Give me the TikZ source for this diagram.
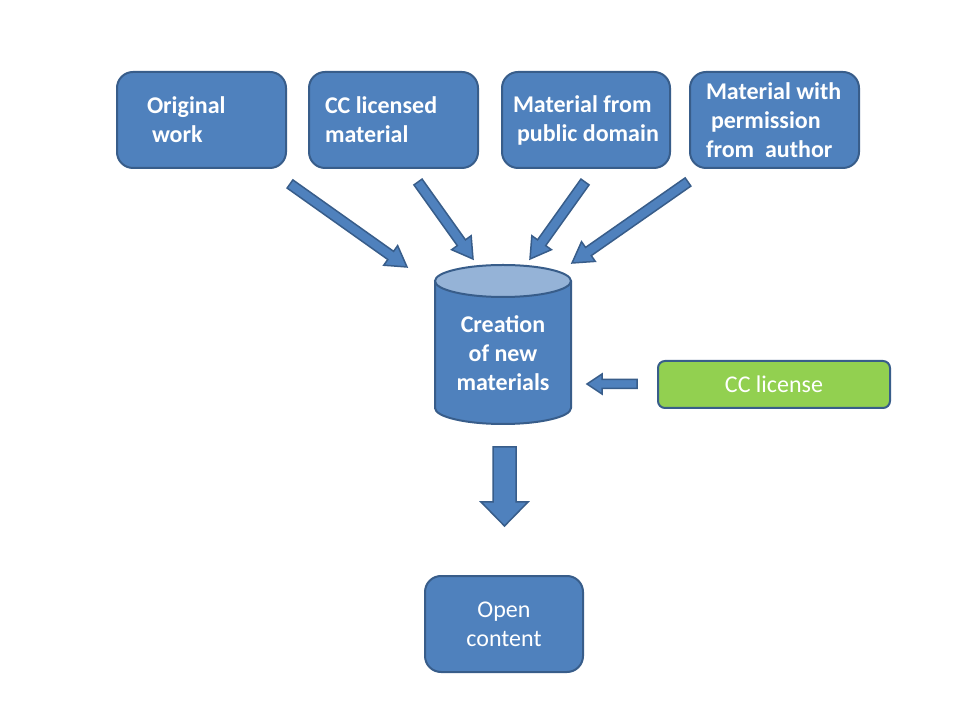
\documentclass[tikz,border=0pt]{standalone}
\usepackage{fontspec}
\setmainfont{Carlito}
\usetikzlibrary{calc}
\definecolor{boxfill}{HTML}{4F81BD}
\definecolor{boxline}{HTML}{385D8A}
\definecolor{topfill}{HTML}{95B3D7}
\definecolor{ccgreen}{HTML}{92D050}
\tikzset{
  srcbox/.style={draw=boxline, fill=boxfill, line width=2pt, rounded corners=16pt,
    minimum height=96pt, text=white, font=\fontsize{24}{29}\selectfont\bfseries,
    align=left, inner sep=0pt},
  outbox/.style={draw=boxline, fill=boxfill, line width=2pt, rounded corners=16pt,
    minimum height=96pt, minimum width=158pt, text=white,
    font=\fontsize{24}{29}\selectfont, align=center},
  licbox/.style={draw=boxline, fill=ccgreen, line width=2pt, rounded corners=7pt,
    minimum height=47pt, minimum width=232pt, text=white,
    font=\fontsize{24}{29}\selectfont},
  cyltext/.style={text=white, font=\fontsize{24}{29}\selectfont\bfseries, align=center},
  blockarr/.style={draw=boxline, fill=boxfill, line width=1.5pt, line join=miter}
}
\newcommand\barrow[5]{%
  \coordinate (hb) at ($(#2)!#5!(#1)$);
  \draw[blockarr] ($(#1)!#3!90:(#2)$) -- ($(hb)!#3!-90:(#1)$) -- ($(hb)!#4!-90:(#1)$)
    -- (#2) -- ($(hb)!#4!90:(#1)$) -- ($(hb)!#3!90:(#1)$) -- ($(#1)!#3!-90:(#2)$) -- cycle;
}
\begin{document}
\begin{tikzpicture}[x=1pt,y=1pt]
\useasboundingbox[fill=white] (0,0) rectangle (960,720);
% source boxes
\node[srcbox, minimum width=169pt] (orig) at (201.5,600) {\makebox[109pt][l]{Original}\\\hspace{5pt}work};
\node[srcbox, minimum width=169pt] (ccm) at (393.5,600) {\makebox[137pt][l]{CC licensed}\\material};
\node[srcbox, minimum width=168pt] (pub) at (586,600) {\makebox[146pt][l]{Material from}\\\hspace{4pt}public domain};
\node[srcbox, minimum width=169pt] (perm) at (774.5,600) {\makebox[137pt][l]{Material with}\\\hspace{5pt}permission\\from\ \ author};
% cylinder
\fill[boxfill] (435,439) -- (435,312) arc[start angle=180,end angle=360,x radius=68pt,y radius=16pt] -- (571,439) -- cycle;
\draw[boxline, line width=2pt] (435,439) -- (435,312) arc[start angle=180,end angle=360,x radius=68pt,y radius=16pt] -- (571,439);
\draw[boxline, fill=topfill, line width=2pt] (503,439) ellipse[x radius=68pt, y radius=16pt];
\node[cyltext] (cyl) at (503,367) {Creation\\of new\\materials};
% license and output
\node[licbox] (lic) at (774,335.5) {CC license};
\node[outbox] (open) at (504,96) {Open\\content};
% arrow end points
\coordinate (a1s) at (290,536);
\coordinate (a1t) at (407,453);
\coordinate (a2s) at (418,538);
\coordinate (a2t) at (473,461);
\coordinate (a3s) at (585,538);
\coordinate (a3t) at (530,461);
\coordinate (a4s) at (688,538);
\coordinate (a4t) at (572,457);
\coordinate (ls) at (637,336);
\coordinate (lt) at (587,336);
\coordinate (ds) at (504.5,273);
\coordinate (dt) at (504.5,194);
\barrow{a1s}{a1t}{5pt}{12pt}{20pt}
\barrow{a2s}{a2t}{5pt}{12pt}{20pt}
\barrow{a3s}{a3t}{5pt}{12pt}{20pt}
\barrow{a4s}{a4t}{5pt}{12pt}{20pt}
\barrow{ls}{lt}{4.5pt}{10pt}{15pt}
\barrow{ds}{dt}{11.5pt}{23.5pt}{24pt}
\end{tikzpicture}
\end{document}
